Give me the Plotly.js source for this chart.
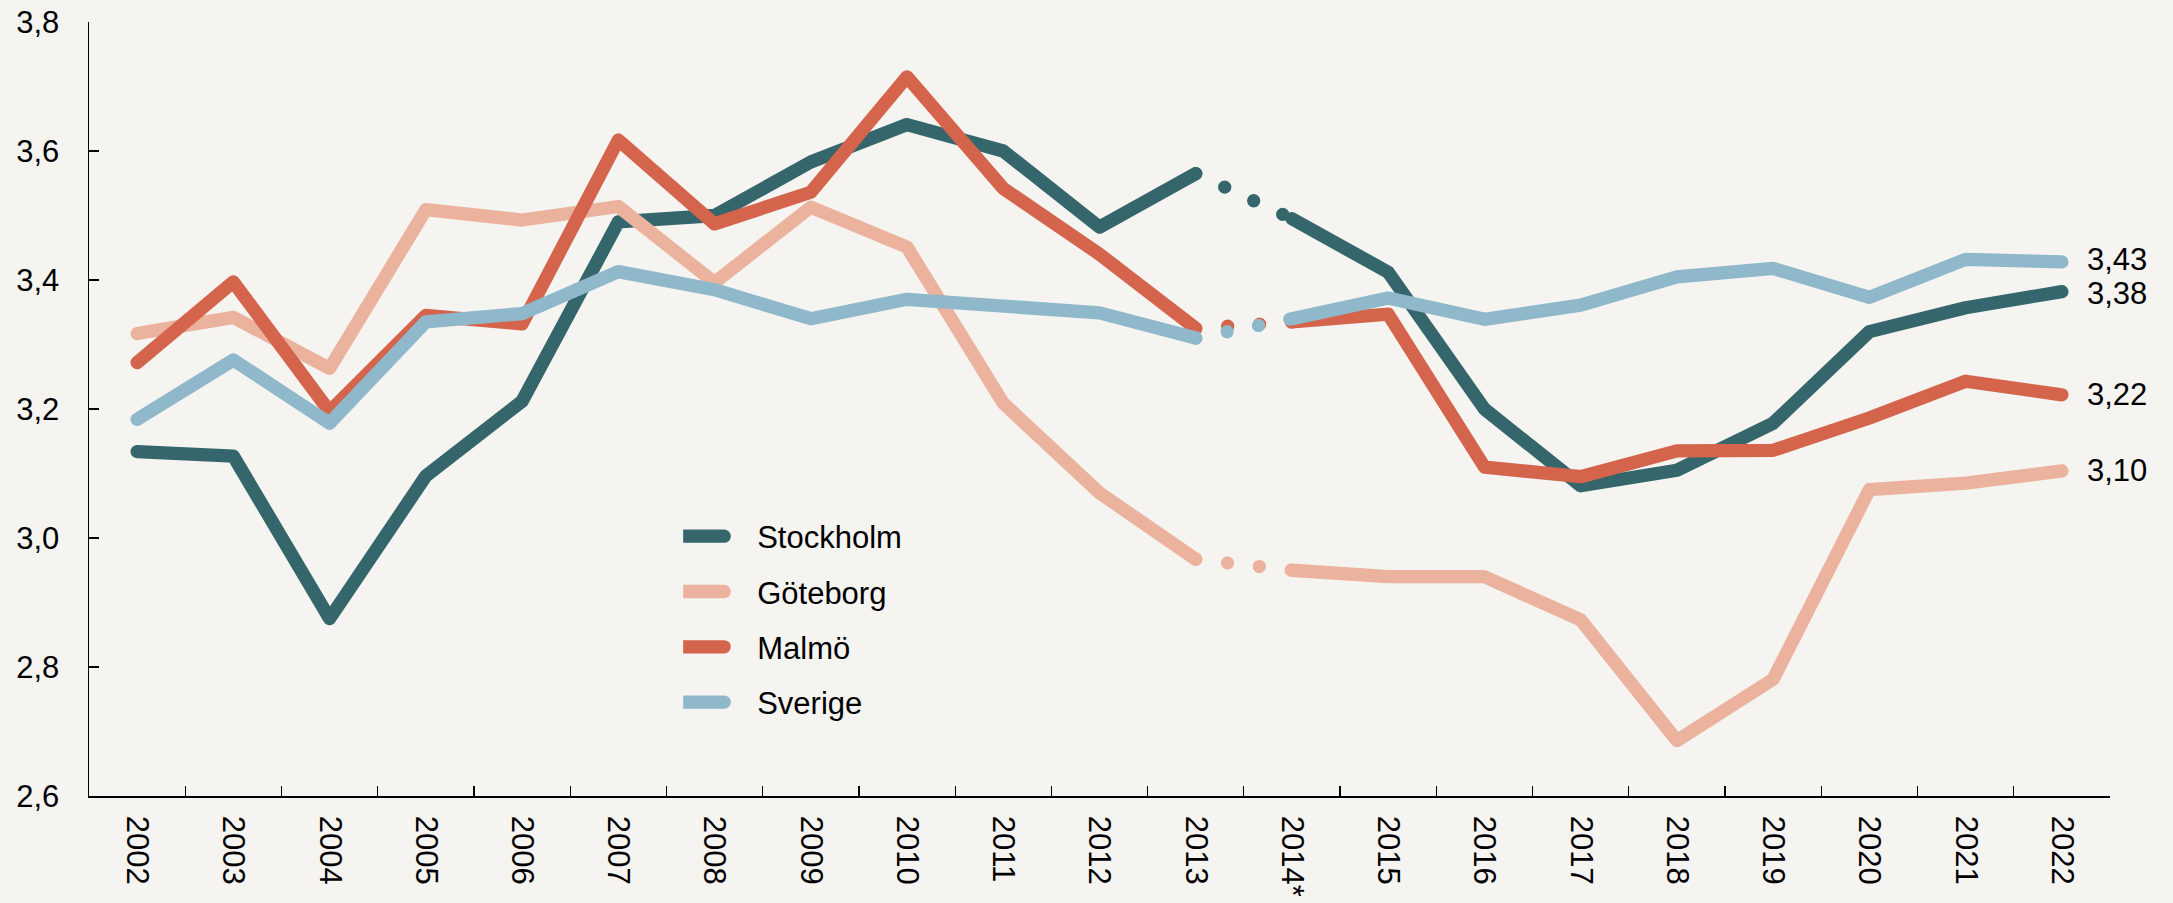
<!DOCTYPE html>
<html>
<head>
<meta charset="utf-8">
<script src="https://cdn.plot.ly/plotly-3.0.1.min.js"></script>
<style>
  html, body { margin: 0; padding: 0; background: #f5f4f0; }
  #chart { width: 2173px; height: 903px; }
  .scatterlayer path.js-line { stroke-linecap: round; stroke-linejoin: round; }
  .legend .legendlines path { d: path("M-9,0h50"); stroke-width: 13.3px !important; stroke-linecap: round; }
</style>
</head>
<body>
<div id="chart"></div>
<script>
// ---- data ----
const years = ['2002','2003','2004','2005','2006','2007','2008','2009','2010','2011','2012','2013','2014*','2015','2016','2017','2018','2019','2020','2021','2022'];
const seriesNames = ['Stockholm', 'Göteborg', 'Malmö', 'Sverige'];
const stockholm = [3.134, 3.127, 2.875, 3.096, 3.212, 3.490, 3.500, 3.583, 3.641, 3.600, 3.482, 3.565, 3.495, 3.412, 3.200, 3.081, 3.105, 3.178, 3.320, 3.357, 3.382];
const goteborg  = [3.317, 3.342, 3.263, 3.509, 3.493, 3.514, 3.396, 3.513, 3.451, 3.209, 3.070, 2.967, 2.950, 2.940, 2.940, 2.873, 2.686, 2.781, 3.075, 3.085, 3.104];
const malmo     = [3.272, 3.397, 3.196, 3.345, 3.332, 3.617, 3.487, 3.536, 3.715, 3.542, 3.440, 3.325, 3.335, 3.347, 3.110, 3.095, 3.135, 3.136, 3.186, 3.243, 3.222];
const sverige   = [3.184, 3.276, 3.178, 3.335, 3.348, 3.413, 3.385, 3.340, 3.370, 3.357, 3.349, 3.310, 3.340, 3.372, 3.339, 3.361, 3.405, 3.418, 3.373, 3.432, 3.428];
const colors = ['#34666b', '#ebb39e', '#d4644b', '#8fb8cb'];
const breakIndex = 12; // '2014*' starts a new series (break in data)
const labelShift = [-2, 0, 0, 2]; // tiny vertical nudge of end labels so close ones don't collide

const allValues = [stockholm, goteborg, malmo, sverige];
const FONT = 'Liberation Sans, Arial, Helvetica, sans-serif';

const traces = [];
allValues.forEach((vals, i) => {
  const name = seriesNames[i];
  const line = { color: colors[i], width: 13.3 };
  traces.push({
    type: 'scatter', mode: 'lines', name: name, legendgroup: name, showlegend: true,
    x: years.slice(0, breakIndex), y: vals.slice(0, breakIndex), line: line, hoverinfo: 'x+y+name'
  });
  traces.push({
    type: 'scatter', mode: 'lines', name: name, legendgroup: name, showlegend: false,
    x: years.slice(breakIndex - 1, breakIndex + 1), y: vals.slice(breakIndex - 1, breakIndex + 1),
    line: { color: colors[i], width: 13.3, dash: '0px,32px' }, hoverinfo: 'skip'
  });
  traces.push({
    type: 'scatter', mode: 'lines', name: name, legendgroup: name, showlegend: false,
    x: years.slice(breakIndex), y: vals.slice(breakIndex), line: line, hoverinfo: 'x+y+name'
  });
});

// end-of-line value labels (category axis: x given as category index)
const lastIdx = years.length - 1;
const annotations = allValues.map((vals, i) => ({
  x: lastIdx, y: vals[lastIdx], xref: 'x', yref: 'y',
  text: vals[lastIdx].toFixed(2).replace('.', ','),
  showarrow: false, xanchor: 'left', yanchor: 'middle', xshift: 23, yshift: labelShift[i],
  font: { family: FONT, size: 31, color: '#000' }
}));

const layout = {
  width: 2173, height: 903,
  paper_bgcolor: '#f5f4f0', plot_bgcolor: '#f5f4f0',
  margin: { l: 89, r: 63, t: 22, b: 107 },
  separators: ',.',
  font: { family: FONT, size: 31, color: '#000' },
  showlegend: true,
  legend: {
    x: 0.294, xanchor: 'left', y: 0.228, yanchor: 'middle',
    bgcolor: 'rgba(0,0,0,0)', borderwidth: 0,
    font: { family: FONT, size: 31, color: '#000' },
    traceorder: 'grouped', tracegroupgap: 12, itemwidth: 64
  },
  xaxis: {
    type: 'category', categoryorder: 'array', categoryarray: years,
    range: [-0.5, 20.5], showgrid: false, zeroline: false,
    showline: true, linecolor: '#000', linewidth: 1.5,
    ticks: 'inside', ticklen: 10, tickwidth: 1.2, tickcolor: '#000', tickson: 'boundaries',
    tickangle: 90, ticklabelstandoff: 12,
    tickfont: { family: FONT, size: 31, color: '#000' }
  },
  yaxis: {
    range: [2.6, 3.8], dtick: 0.2, tick0: 2.6, tickformat: '.1f',
    showgrid: false, zeroline: false,
    showline: true, linecolor: '#000', linewidth: 1.5,
    ticks: 'inside', ticklen: 10, tickwidth: 1.2, tickcolor: '#000',
    ticklabelstandoff: 22,
    tickfont: { family: FONT, size: 31, color: '#000' }
  },
  annotations: annotations
};

Plotly.newPlot('chart', traces, layout, { displayModeBar: false, staticPlot: true });
</script>
</body>
</html>
